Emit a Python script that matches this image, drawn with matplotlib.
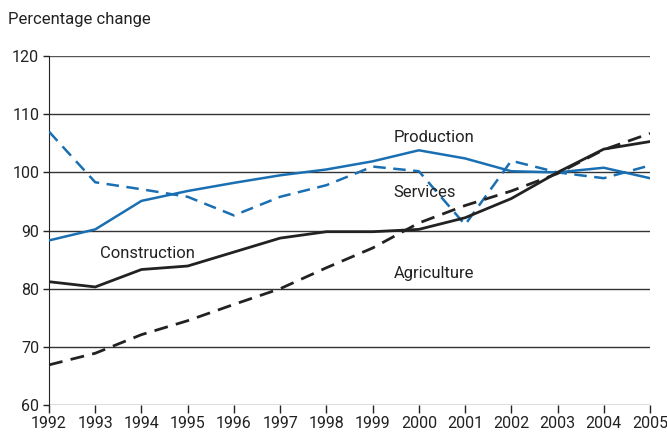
import matplotlib.pyplot as plt

plt.rcParams['font.family'] = ['Roboto', 'DejaVu Sans']

years = list(range(1992, 2006))
production = [88.3, 90.2, 95.1, 96.8, 98.2, 99.5, 100.5, 101.9, 103.8, 102.4, 100.2, 100.0, 100.8, 99.0]
services = [107.0, 98.3, 97.1, 95.8, 92.6, 95.8, 97.8, 101.0, 100.2, 91.0, 102.0, 100.0, 99.0, 101.2]
construction = [81.2, 80.3, 83.3, 83.9, 86.3, 88.7, 89.8, 89.8, 90.2, 92.2, 95.5, 100.0, 104.0, 105.3]
agriculture = [66.9, 68.9, 72.1, 74.5, 77.3, 80.0, 83.6, 87.0, 91.3, 94.3, 96.8, 99.8, 103.9, 106.7]

blue = '#1a6fb3'
dark = '#222222'

fig = plt.figure(figsize=(6.67, 4.34), dpi=100)
ax = fig.add_axes([0.0735, 0.0668, 0.901, 0.804])

for y in range(60, 121, 10):
    ax.axhline(y, color='#333333' if y not in (60, 120) else '#555555', lw=1.0, zorder=1)

ax.plot(years, production, color=blue, lw=1.8, zorder=3)
ax.plot(years, services, color=blue, lw=1.8, ls=(0, (5, 3)), zorder=3)
ax.plot(years, construction, color=dark, lw=2.0, zorder=3)
ax.plot(years, agriculture, color=dark, lw=2.0, ls=(0, (5, 3)), zorder=3)

ax.text(1999.45, 106.0, 'Production', fontsize=12, color='#222222', va='center')
ax.text(1999.45, 96.5, 'Services', fontsize=12, color='#222222', va='center')
ax.text(1993.1, 86.0, 'Construction', fontsize=12, color='#222222', va='center')
ax.text(1999.45, 82.6, 'Agriculture', fontsize=12, color='#222222', va='center')

ax.set_xlim(1992, 2005)
ax.set_ylim(60, 120)
ax.set_xticks(years)
ax.set_yticks(range(60, 121, 10))
ax.tick_params(axis='both', labelsize=11.5, colors='#222222', length=6, width=1)
ax.tick_params(axis='x', direction='out', pad=2)
ax.tick_params(axis='y', length=4, pad=3)
for s in ['top', 'right', 'bottom']:
    ax.spines[s].set_visible(False)
ax.spines['left'].set_color('#222222')

fig.text(0.012, 0.955, 'Percentage change', fontsize=12, color='#222222', va='center')

fig.savefig('out.png', dpi=100)
